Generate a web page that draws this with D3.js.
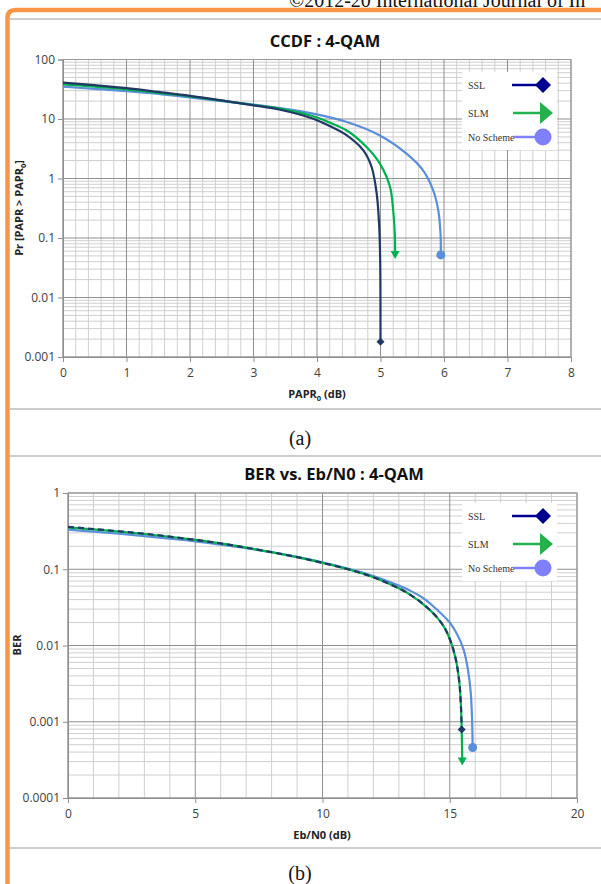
<!DOCTYPE html>
<html>
<head>
<meta charset="utf-8">
<script src="https://cdn.jsdelivr.net/npm/d3@7/dist/d3.min.js"></script>
<style>
  html, body { margin: 0; padding: 0; background: #fff; }
  svg { display: block; }
</style>
</head>
<body>
<svg id="c" width="601" height="884"></svg>
<script>
// ---------- DATA ----------
const seriesNames = ["SSL", "SLM", "No Scheme"];

// (a) CCDF : 4-QAM  — [PAPR0 (dB), Pr(%)]
const ccdfSSL = [[0,41],[0.5,37],[1,33],[1.5,28.5],[2,24.5],[2.5,20.5],[3,17],[3.42,14.3],[3.94,10.1],[4.2,7.6],[4.47,5.3],[4.73,2.97],[4.86,1.56],[4.94,0.56],[4.98,0.154],[4.995,0.042],[5.0,0.0018]];
const ccdfSLM = [[0,38],[0.5,35],[1,31.5],[1.5,27.5],[2,24],[2.5,20.3],[3,17.2],[3.42,14.9],[3.94,11.1],[4.2,8.7],[4.47,6.4],[4.78,3.38],[4.99,1.78],[5.15,0.72],[5.2,0.29],[5.225,0.119],[5.23,0.058]];
const ccdfNone = [[0,35],[0.5,32],[1,29.5],[1.5,26.5],[2,23],[2.5,20],[3,17.5],[3.42,15.2],[3.94,12.3],[4.47,8.9],[4.99,5.3],[5.41,2.62],[5.67,1.37],[5.83,0.63],[5.91,0.29],[5.945,0.119],[5.95,0.052]];
const ccdfXTicks = [0,1,2,3,4,5,6,7,8];
const ccdfYTicks = [0.001,0.01,0.1,1,10,100];
const ccdfYLabels = ["0.001","0.01","0.1","1","10","100"];

// (b) BER vs. Eb/N0 : 4-QAM — [Eb/N0 (dB), BER]
const berSSL = [[0,0.36],[1,0.337],[2,0.315],[3,0.292],[4,0.268],[5,0.243],[6,0.218],[7,0.192],[8,0.1675],[9,0.144],[10,0.121],[11,0.1],[12,0.0785],[13,0.0562],[13.5,0.0452],[14,0.0339],[14.5,0.0234],[14.8,0.017],[15.05,0.011],[15.25,0.0063],[15.38,0.0032],[15.44,0.0016],[15.47,0.00079]];
const berSLM = [[0,0.355],[1,0.333],[2,0.312],[3,0.29],[4,0.267],[5,0.243],[6,0.218],[7,0.192],[8,0.1675],[9,0.144],[10,0.121],[11,0.1],[12,0.0785],[13,0.0562],[13.5,0.0452],[14,0.0339],[14.5,0.0234],[14.8,0.017],[15.05,0.011],[15.25,0.0063],[15.38,0.0032],[15.44,0.0016],[15.47,0.00079],[15.49,0.00033]];
const berNone = [[0,0.33],[1,0.311],[2,0.292],[3,0.272],[4,0.252],[5,0.232],[6,0.21],[7,0.189],[8,0.167],[9,0.145],[10,0.1236],[11,0.102],[12,0.0813],[13,0.061],[13.5,0.0513],[14,0.041],[14.5,0.0295],[15,0.02],[15.3,0.0138],[15.55,0.0087],[15.72,0.0047],[15.82,0.0025],[15.87,0.00126],[15.9,0.00046]];
const berXTicks = [0,5,10,15,20];
const berYTicks = [0.0001,0.001,0.01,0.1,1];
const berYLabels = ["0.0001","0.001","0.01","0.1","1"];

// ---------- DRAW ----------
const svg = d3.select("#c");
const SANS = "'Open Sans', 'Liberation Sans', sans-serif";
const SERIF = "'Liberation Serif', 'Times New Roman', serif";
const curveCol = { SSL: "#1f3864", SLM: "#00b050", "No Scheme": "#5b8fd9" };
const legCol = { SSL: "#000090", SLM: "#22b14c", "No Scheme": "#8080ff" };

// page frame
svg.append("text").attr("x", 289).attr("y", 7).attr("font-family", SERIF).attr("font-size", 20)
  .attr("fill", "#111").text("©2012-20 International Journal of In");
svg.append("path").attr("d", "M7.5,884 L7.5,18 Q7.5,10 15.5,10 L601,10")
  .attr("fill", "none").attr("stroke", "#f79646").attr("stroke-width", 4.5);
[19, 409, 456, 848].forEach(y => svg.append("line").attr("x1", 10).attr("x2", 601).attr("y1", y).attr("y2", y)
  .attr("stroke", "#bdbdbd").attr("stroke-width", 1.6));
svg.append("text").attr("x", 300).attr("y", 445).attr("text-anchor", "middle").attr("font-family", SERIF)
  .attr("font-size", 20).attr("fill", "#111").text("(a)");
svg.append("text").attr("x", 300).attr("y", 880).attr("text-anchor", "middle").attr("font-family", SERIF)
  .attr("font-size", 20).attr("fill", "#111").text("(b)");

function drawChart(o) {
  const g = svg.append("g");
  const x = d3.scaleLinear().domain(o.xDomain).range([o.left, o.right]);
  const y = d3.scaleLog().domain(o.yDomain).range([o.bottom, o.top]);

  // minor grid
  const minorX = d3.range(o.xDomain[0], o.xDomain[1] + 1e-9, o.xMinor).filter(v => !o.xTicks.some(t => Math.abs(t - v) < 1e-9));
  const minorY = [];
  for (let i = 0; i < o.yTicks.length - 1; i++) for (let k = 2; k <= 9; k++) minorY.push(o.yTicks[i] * k);
  g.selectAll(".mx").data(minorX).join("line").attr("x1", d => x(d)).attr("x2", d => x(d))
    .attr("y1", o.top).attr("y2", o.bottom).attr("stroke", "#cfcfcf").attr("stroke-width", 1);
  g.selectAll(".my").data(minorY).join("line").attr("y1", d => y(d)).attr("y2", d => y(d))
    .attr("x1", o.left).attr("x2", o.right).attr("stroke", "#cfcfcf").attr("stroke-width", 1);
  // major grid
  g.selectAll(".Mx").data(o.xTicks).join("line").attr("x1", d => x(d)).attr("x2", d => x(d))
    .attr("y1", o.top).attr("y2", o.bottom).attr("stroke", "#8f8f8f").attr("stroke-width", 1);
  g.selectAll(".My").data(o.yTicks).join("line").attr("y1", d => y(d)).attr("y2", d => y(d))
    .attr("x1", o.left).attr("x2", o.right).attr("stroke", "#8f8f8f").attr("stroke-width", 1);
  // frame
  g.append("rect").attr("x", o.left).attr("y", o.top).attr("width", o.right - o.left).attr("height", o.bottom - o.top)
    .attr("fill", "none").attr("stroke", "#9a9a9a").attr("stroke-width", 1);

  // axes
  const xa = g.append("g").attr("transform", `translate(0,${o.bottom})`)
    .call(d3.axisBottom(x).tickValues(o.xTicks).tickSize(5).tickPadding(6).tickFormat(d3.format("d")));
  const ya = g.append("g").attr("transform", `translate(${o.left},0)`)
    .call(d3.axisLeft(y).tickValues(o.yTicks).tickSize(5).tickPadding(3).tickFormat((d, i) => o.yLabels[i]));
  [xa, ya].forEach(a => {
    a.select(".domain").attr("stroke", "#8f8f8f");
    a.selectAll(".tick line").attr("stroke", "#8f8f8f");
    a.selectAll(".tick text").attr("font-family", SANS).attr("font-size", 12).attr("fill", "#404040");
  });

  // titles
  g.append("text").attr("x", o.titleX).attr("y", o.top - 13).attr("text-anchor", "middle")
    .attr("font-family", SANS).attr("font-weight", "bold").attr("font-size", 16.5).attr("fill", "#111").text(o.title);
  const xl = g.append("text").attr("x", o.xLabelX).attr("y", o.bottom + 41).attr("text-anchor", "middle")
    .attr("font-family", SANS).attr("font-weight", "bold").attr("font-size", 11).attr("fill", "#222");
  o.xLabel(xl);
  const yl = g.append("text").attr("transform", `translate(${o.yLabelX},${o.yLabelY}) rotate(-90)`)
    .attr("text-anchor", "middle").attr("font-family", SANS).attr("font-weight", "bold").attr("font-size", 11).attr("fill", "#222");
  o.yLabel(yl);

  // curves
  const line = d3.line().x(d => x(d[0])).y(d => y(d[1])).curve(d3.curveCatmullRom.alpha(0.5));
  const order = o.order;
  order.forEach(name => {
    const s = o.series[name];
    g.append("path").attr("d", line(s.data)).attr("fill", "none").attr("stroke", curveCol[name])
      .attr("stroke-width", 2.2).attr("stroke-dasharray", s.dash || null).attr("stroke-linecap", "butt");
  });
  // end markers
  order.forEach(name => {
    const s = o.series[name];
    const last = s.data[s.data.length - 1];
    const px = x(last[0]), py = y(last[1]);
    const c = curveCol[name];
    if (name === "SSL") {
      g.append("path").attr("d", `M${px},${py - 4} L${px + 4},${py} L${px},${py + 4} L${px - 4},${py} Z`).attr("fill", c);
    } else if (name === "SLM") {
      g.append("path").attr("d", `M${px - 4.5},${py - 1} L${px + 4.5},${py - 1} L${px},${py + 7} Z`).attr("fill", c);
    } else {
      g.append("circle").attr("cx", px).attr("cy", py).attr("r", 4.5).attr("fill", c);
    }
  });

  // legend
  const L = o.legend;
  g.append("rect").attr("x", L.x).attr("y", L.y).attr("width", 95).attr("height", 78).attr("fill", "#fff");
  const rows = [L.y + 13, L.y + 41, L.y + 65];
  seriesNames.forEach((name, i) => {
    const cy = rows[i];
    const c = legCol[name];
    g.append("text").attr("x", L.x + 6).attr("y", cy + 3.5).attr("font-family", SERIF).attr("font-size", 10)
      .attr("fill", "#333").text(name);
    if (name === "SSL") {
      g.append("line").attr("x1", L.x + 50).attr("x2", L.x + 78).attr("y1", cy).attr("y2", cy).attr("stroke", c).attr("stroke-width", 2.5);
      g.append("path").attr("d", `M${L.x + 81},${cy - 8} L${L.x + 89},${cy} L${L.x + 81},${cy + 8} L${L.x + 73},${cy} Z`).attr("fill", c);
    } else if (name === "SLM") {
      g.append("line").attr("x1", L.x + 51).attr("x2", L.x + 79).attr("y1", cy).attr("y2", cy).attr("stroke", c).attr("stroke-width", 2.5);
      g.append("path").attr("d", `M${L.x + 78},${cy - 11} L${L.x + 91},${cy} L${L.x + 78},${cy + 11} Z`).attr("fill", c);
    } else {
      g.append("line").attr("x1", L.x + 51).attr("x2", L.x + 78).attr("y1", cy).attr("y2", cy).attr("stroke", c).attr("stroke-width", 2.5);
      g.append("circle").attr("cx", L.x + 81).attr("cy", cy).attr("r", 8.5).attr("fill", c);
    }
  });
}

drawChart({
  left: 63, right: 571, top: 59.5, bottom: 357,
  xDomain: [0, 8], yDomain: [0.001, 100], xTicks: ccdfXTicks, yTicks: ccdfYTicks, yLabels: ccdfYLabels, xMinor: 0.2,
  title: "CCDF : 4-QAM", titleX: 325, xLabelX: 317, yLabelX: 23, yLabelY: 208,
  xLabel: t => { t.append("tspan").text("PAPR"); t.append("tspan").attr("font-size", 7.5).attr("dy", 2.5).text("0");
                 t.append("tspan").attr("dy", -2.5).text(" (dB)"); },
  yLabel: t => { t.append("tspan").text("Pr [PAPR > PAPR"); t.append("tspan").attr("font-size", 7.5).attr("dy", 2.5).text("0");
                 t.append("tspan").attr("dy", -2.5).text("]"); },
  series: { SSL: { data: ccdfSSL }, SLM: { data: ccdfSLM }, "No Scheme": { data: ccdfNone } },
  order: ["No Scheme", "SLM", "SSL"],
  legend: { x: 462, y: 72 }
});

drawChart({
  left: 68, right: 577, top: 493, bottom: 798,
  xDomain: [0, 20], yDomain: [0.0001, 1], xTicks: berXTicks, yTicks: berYTicks, yLabels: berYLabels, xMinor: 1,
  title: "BER vs. Eb/N0 : 4-QAM", titleX: 334, xLabelX: 322, yLabelX: 21, yLabelY: 645,
  xLabel: t => t.text("Eb/N0 (dB)"),
  yLabel: t => t.text("BER"),
  series: { SSL: { data: berSSL, dash: "6,4" }, SLM: { data: berSLM }, "No Scheme": { data: berNone } },
  order: ["No Scheme", "SLM", "SSL"],
  legend: { x: 462, y: 503 }
});
</script>
</body>
</html>
